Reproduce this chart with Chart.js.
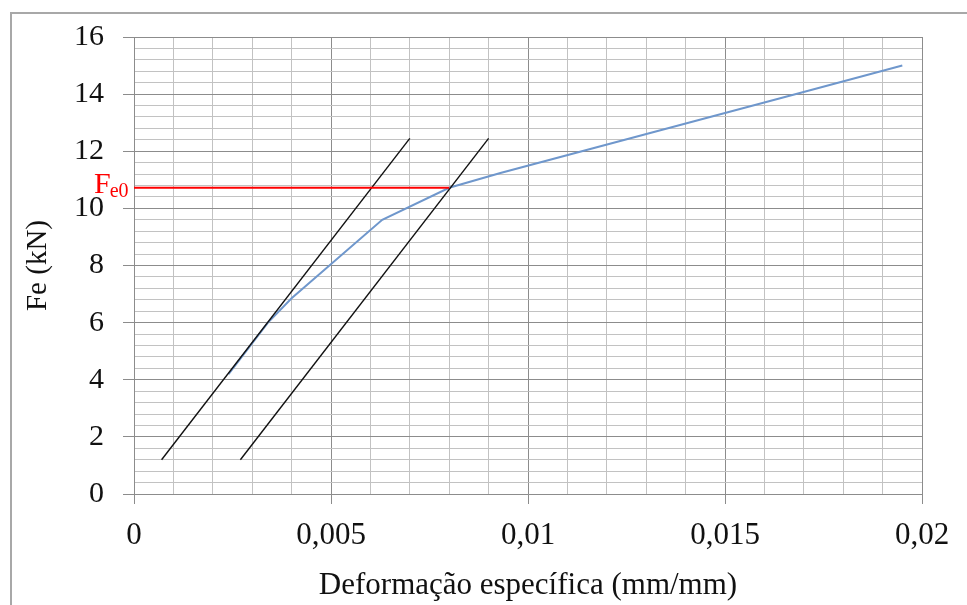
<!DOCTYPE html>
<html lang="pt">
<head>
  <meta charset="UTF-8">
  <title>Fe x Deformação específica</title>
  <script src="https://cdn.jsdelivr.net/npm/chart.js"></script>
  <style>
    body { margin: 0; background: #fff; overflow: hidden; }
    .frame {
      position: absolute; left: 10px; top: 12px; width: 2000px; height: 2000px;
      border-left: 2px solid #a8a8a8; border-top: 2px solid #a8a8a8;
    }
    #chart { position: absolute; left: 0; top: 0; }
  </style>
</head>
<body>
  <div class="frame"></div>
  <canvas id="chart" width="967" height="605"></canvas>

  <script>
    // Curva carga x deformação (azul)
    const curveX = [0.0024, 0.0034, 0.0040, 0.0063, 0.0080, 0.0093, 0.0169, 0.0195];
    const curveY = [4.2, 6.0, 6.85, 9.6, 10.72, 11.24, 14.04, 15.0];

    // Retas paralelas (pretas)
    const line1X = [0.0007, 0.0070];
    const line1Y = [1.2, 12.45];
    const line2X = [0.0027, 0.0090];
    const line2Y = [1.2, 12.45];

    // Linha horizontal Fe0 (vermelha)
    const fe0X = [0, 0.0080];
    const fe0Y = [10.72, 10.72];

    // Eixos
    const xTickLabels = ['0', '0,005', '0,01', '0,015', '0,02'];
    const yTickLabels = ['0', '2', '4', '6', '8', '10', '12', '14', '16'];

    const serif = '"Liberation Serif", "Times New Roman", serif';

    const toPoints = (xs, ys) => xs.map((x, i) => ({ x: x, y: ys[i] }));

    const isMajorX = v => Math.round(v * 1000) % 5 === 0;
    const isMajorY = v => Math.round(v * 10) % 20 === 0;

    // Label "Fe0" next to the red line
    const fe0Label = {
      id: 'fe0Label',
      afterDraw(chart) {
        const ctx = chart.ctx;
        const y = chart.scales.y.getPixelForValue(fe0Y[0]);
        ctx.save();
        ctx.fillStyle = '#ff0000';
        ctx.textBaseline = 'alphabetic';
        ctx.textAlign = 'left';
        ctx.font = '30px ' + serif;
        ctx.fillText('F', 94, y + 5.5);
        const w = ctx.measureText('F').width;
        ctx.font = '20px ' + serif;
        ctx.fillText('e0', 94 + w - 1, y + 9.5);
        ctx.restore();
      }
    };

    const ctx = document.getElementById('chart').getContext('2d');
    new Chart(ctx, {
      type: 'scatter',
      data: {
        datasets: [
          {
            data: toPoints(fe0X, fe0Y),
            showLine: true,
            borderColor: '#ff0000',
            borderWidth: 2,
            pointRadius: 0
          },
          {
            data: toPoints(line1X, line1Y),
            showLine: true,
            borderColor: '#111111',
            borderWidth: 1.4,
            pointRadius: 0
          },
          {
            data: toPoints(line2X, line2Y),
            showLine: true,
            borderColor: '#111111',
            borderWidth: 1.4,
            pointRadius: 0
          },
          {
            data: toPoints(curveX, curveY),
            showLine: true,
            borderColor: '#6f97cc',
            borderWidth: 2,
            pointRadius: 0
          }
        ]
      },
      options: {
        responsive: false,
        animation: false,
        devicePixelRatio: 1,
        layout: { padding: { left: 0, right: 45, top: 37, bottom: 0 } },
        plugins: {
          legend: { display: false },
          tooltip: { enabled: false }
        },
        scales: {
          x: {
            type: 'linear',
            min: 0,
            max: 0.02,
            afterFit: scale => { scale.height = 111; },
            border: { color: '#8c8c8c', width: 1 },
            grid: {
              color: c => isMajorX(c.tick.value) ? '#8c8c8c' : '#c2c2c2',
              lineWidth: 1,
              tickLength: 10,
              tickColor: c => isMajorX(c.tick.value) ? '#8c8c8c' : 'rgba(0,0,0,0)'
            },
            ticks: {
              stepSize: 0.001,
              autoSkip: false,
              maxRotation: 0,
              padding: 13,
              color: '#111',
              font: { family: serif, size: 31 },
              callback: v => isMajorX(v) ? xTickLabels[Math.round(v / 0.005)] : ''
            },
            title: {
              display: true,
              text: 'Deformação específica (mm/mm)',
              color: '#111',
              font: { family: serif, size: 31 },
              padding: { top: 0, bottom: 1 }
            }
          },
          y: {
            type: 'linear',
            min: 0,
            max: 16,
            afterFit: scale => { scale.width = 134; },
            border: { color: '#8c8c8c', width: 1 },
            grid: {
              color: c => isMajorY(c.tick.value) ? '#8c8c8c' : '#c2c2c2',
              lineWidth: 1,
              tickLength: 11,
              tickColor: c => isMajorY(c.tick.value) ? '#8c8c8c' : 'rgba(0,0,0,0)'
            },
            ticks: {
              stepSize: 0.4,
              autoSkip: false,
              padding: 19,
              color: '#111',
              font: { family: serif, size: 30 },
              callback: v => isMajorY(v) ? yTickLabels[Math.round(v / 2)] : ''
            },
            title: {
              display: true,
              text: 'Fe (kN)',
              color: '#111',
              font: { family: serif, size: 29 },
              padding: { top: 21, bottom: 0 }
            }
          }
        }
      },
      plugins: [fe0Label]
    });
  </script>
</body>
</html>
